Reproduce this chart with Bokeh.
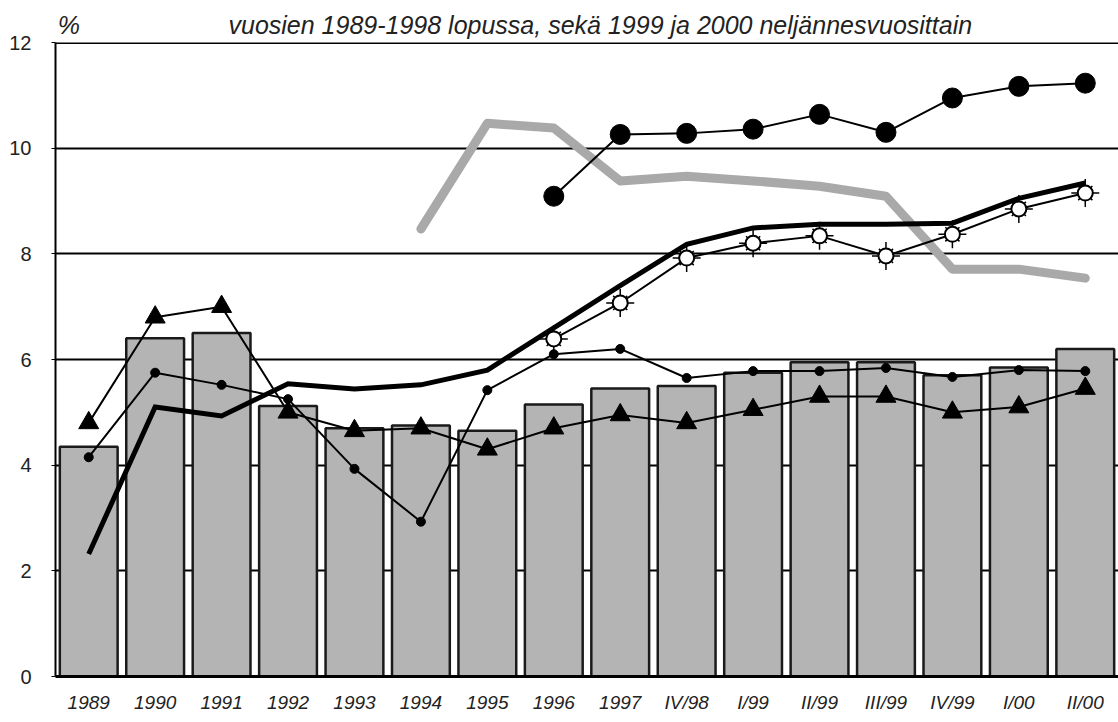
from bokeh.plotting import figure
from bokeh.models import FactorRange, Range1d, FixedTicker, Span, LinearAxis
from bokeh.embed import file_html
from bokeh.resources import INLINE

categories = ["1989", "1990", "1991", "1992", "1993", "1994", "1995", "1996", "1997",
              "IV/98", "I/99", "II/99", "III/99", "IV/99", "I/00", "II/00"]
bar_values = [4.35, 6.4, 6.5, 5.12, 4.7, 4.75, 4.65, 5.15, 5.45,
              5.5, 5.75, 5.95, 5.95, 5.7, 5.85, 6.2]
triangle_values = [4.8, 6.8, 7.0, 5.0, 4.65, 4.7, 4.3, 4.7, 4.95,
                   4.8, 5.05, 5.3, 5.3, 5.0, 5.1, 5.45]
small_dot_values = [4.15, 5.75, 5.52, 5.25, 3.93, 2.93, 5.42, 6.1, 6.2,
                    5.65, 5.78, 5.78, 5.84, 5.67, 5.8, 5.78]
thick_values = [2.32, 5.1, 4.93, 5.54, 5.44, 5.52, 5.8, 6.6, 7.4,
                8.18, 8.49, 8.56, 8.56, 8.58, 9.05, 9.34]
sun_categories = categories[7:]
sun_values = [6.39, 7.07, 7.92, 8.2, 8.34, 7.96, 8.37, 8.85, 9.15]
big_dot_categories = categories[7:]
big_dot_values = [9.09, 10.26, 10.28, 10.36, 10.64, 10.3, 10.95, 11.17, 11.23]
gray_categories = categories[5:]
gray_values = [8.47, 10.47, 10.38, 9.38, 9.47, 9.38, 9.28, 9.09, 7.71, 7.71, 7.54]

title_text = "vuosien 1989-1998 lopussa, sekä 1999 ja 2000 neljännesvuosittain"
unit_text = "%"
y_ticks = [0, 2, 4, 6, 8, 10, 12]

FONT = "Liberation Sans"

p = figure(width=1118, height=720, output_backend="svg", toolbar_location=None,
           x_range=FactorRange(*categories, range_padding=0),
           y_range=Range1d(0, 12))
p.min_border_left = 55
p.min_border_right = 0
p.min_border_top = 42
p.min_border_bottom = 44
p.outline_line_color = None
p.background_fill_color = "white"
p.border_fill_color = "white"

# header row (unit label and title) placed on the categorical axis' synthetic coordinates
header = LinearAxis(ticker=FixedTicker(ticks=[0.2, 8.2]),
                    major_label_overrides={0.2: unit_text, 8.2: title_text})
header.axis_line_color = None
header.major_tick_line_color = None
header.minor_tick_line_color = None
header.major_tick_out = 0
header.major_tick_in = 0
header.major_label_text_font = FONT
header.major_label_text_font_style = "italic"
header.major_label_text_font_size = "25px"
header.major_label_text_color = "#222222"
header.major_label_standoff = 4
p.add_layout(header, "above")

# grid
p.xgrid.grid_line_color = None
p.ygrid.ticker = FixedTicker(ticks=[2, 4, 6, 8, 10])
p.ygrid.grid_line_color = "black"
p.ygrid.grid_line_width = 2
p.add_layout(Span(location=12, dimension="width", line_color="black", line_width=3))

# axes
p.yaxis.ticker = FixedTicker(ticks=y_ticks)
p.yaxis.axis_line_color = "black"
p.yaxis.axis_line_width = 2
p.yaxis.major_tick_in = 0
p.yaxis.major_tick_out = 4
p.yaxis.minor_tick_line_color = None
p.yaxis.major_tick_line_color = "black"
p.yaxis.major_label_text_font = FONT
p.yaxis.major_label_text_font_size = "20px"
p.yaxis.major_label_text_color = "#222222"
p.yaxis.major_label_standoff = 20

xax = p.below[0]
xax.axis_line_color = "black"
xax.axis_line_width = 3
xax.major_tick_line_color = None
xax.minor_tick_line_color = None
xax.major_label_text_font = FONT
xax.major_label_text_font_style = "italic"
xax.major_label_text_font_size = "19px"
xax.major_label_text_color = "#222222"
xax.major_label_standoff = 9

# bars
p.vbar(x=categories, top=bar_values, width=0.87, bottom=0,
       fill_color="#b4b4b4", line_color="#1a1a1a", line_width=2.5)

# gray thick line
p.line(gray_categories, gray_values, line_color="#a9a9a9", line_width=9,
       line_join="round", line_cap="round")

# thick black line
p.line(categories, thick_values, line_color="black", line_width=5, line_join="miter")

# small dots
p.line(categories, small_dot_values, line_color="black", line_width=2)
p.scatter(categories, small_dot_values, marker="circle", size=9, fill_color="black", line_color="black")

# triangles
p.line(categories, triangle_values, line_color="black", line_width=2)
p.scatter(categories, triangle_values, marker="triangle", size=20, fill_color="black", line_color="black")

# sun markers
p.line(sun_categories, sun_values, line_color="black", line_width=2)
p.scatter(sun_categories, sun_values, marker="cross", size=28, line_color="black", line_width=1.5)
p.scatter(sun_categories, sun_values, marker="x", size=20, line_color="black", line_width=1.5)
p.scatter(sun_categories, sun_values, marker="circle", size=15, fill_color="white",
          line_color="black", line_width=2)

# big dots
p.line(big_dot_categories, big_dot_values, line_color="black", line_width=2)
p.scatter(big_dot_categories, big_dot_values, marker="circle", size=20,
          fill_color="black", line_color="black")

open("out.html", "w").write(file_html(p, INLINE))
